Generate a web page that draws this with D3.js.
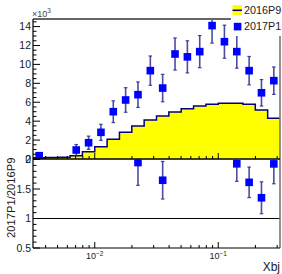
<!DOCTYPE html>
<html><head><meta charset="utf-8">
<script src="https://cdn.jsdelivr.net/npm/d3@7"></script>
<style>body{margin:0;background:#fff}svg{display:block;font-family:"Liberation Sans",Arial,sans-serif}</style>
</head><body><svg id="c" width="282" height="274"></svg>
<script>
// bin low edges (Xbj), 20 bins, 10 per decade
const binEdges = [0.003162,0.003981,0.005012,0.00631,0.007943,0.01,0.01259,0.01585,0.01995,0.02512,0.03162,0.03981,0.05012,0.0631,0.07943,0.1,0.1259,0.1585,0.1995,0.2512,0.3162];
// 2016P9 histogram (x10^3)
const hist2016P9 = [0.12,0.15,0.18,0.35,0.77,1.30,2.08,2.82,3.49,4.13,4.55,4.97,5.32,5.60,5.79,5.89,5.89,5.79,5.18,4.30];
// 2017P1 points (x10^3) and errors
const pts2017P1 = [0.35,null,null,0.95,1.72,2.82,5.0,6.24,6.8,9.34,7.5,11.1,10.8,11.35,14.1,12.4,11.35,9.34,7.0,8.28];
const err2017P1 = [0.2,null,null,0.58,0.7,0.85,1.15,1.3,1.35,1.55,1.45,1.7,1.7,1.7,1.85,1.75,1.75,1.5,1.4,1.45];
const topTicks = [0,2,4,6,8,10,12,14];
const ratioTicks = [0.5,1,1.5,2];
const xMajor = [0.01,0.1];
const xMinor = [0.004,0.005,0.006,0.007,0.008,0.009,0.02,0.03,0.04,0.05,0.06,0.07,0.08,0.09,0.2,0.3];
const legendNames = ["2016P9","2017P1"];

const svg = d3.select("#c");
const L=33, R=280, T1=19, B1=159, T2=159.5, B2=248;
const x = d3.scaleLog().domain([binEdges[0], binEdges[20]]).range([L,R]);
const y1 = d3.scaleLinear().domain([0,14.8]).range([B1,T1]);
const y2 = d3.scaleLinear().domain([0.5,2]).range([B2,T2]);
const txt = "#1a1a1a";

svg.append("rect").attr("width",282).attr("height",274).attr("fill","#fff");
const defs = svg.append("defs");
defs.append("clipPath").attr("id","cp1").append("rect").attr("x",L).attr("y",T1).attr("width",R-L).attr("height",B1-T1);
defs.append("clipPath").attr("id","cp2").append("rect").attr("x",L).attr("y",T2).attr("width",R-L).attr("height",B2-T2);

const bins = hist2016P9.map((v,i)=>({lo:binEdges[i],hi:binEdges[i+1],v:v,p:pts2017P1[i],e:err2017P1[i],c:Math.sqrt(binEdges[i]*binEdges[i+1])}));

// histogram
const g1 = svg.append("g").attr("clip-path","url(#cp1)");
let pd = `M${x(bins[0].lo)},${y1(0)}`;
bins.forEach(b=>{pd+=`L${x(b.lo)},${y1(b.v)}L${x(b.hi)},${y1(b.v)}`;});
pd += `L${x(bins[bins.length-1].hi)},${y1(0)}Z`;
g1.append("path").attr("d",pd).attr("fill","#ffff00");
let ld = "";
bins.forEach((b,i)=>{ld+=(i===0?`M${x(b.lo)},${y1(b.v)}`:`L${x(b.lo)},${y1(b.v)}`)+`L${x(b.hi)},${y1(b.v)}`;});
g1.append("path").attr("d",ld).attr("fill","none").attr("stroke","#000080").attr("stroke-width",1.5);

const ebCol = "#20208c";
function drawPoints(g, data, ys){
  data.forEach(d=>{
    const cx = x(d.c), cy = ys(d.val);
    const yt = ys(d.val+d.err), yb = ys(d.val-d.err);
    g.append("line").attr("x1",cx).attr("x2",cx).attr("y1",yt).attr("y2",yb).attr("stroke",ebCol).attr("stroke-width",1.6).attr("opacity",0.8);
    [yt,yb].forEach(yy=>g.append("line").attr("x1",cx-1.8).attr("x2",cx+1.8).attr("y1",yy).attr("y2",yy).attr("stroke",ebCol).attr("stroke-width",1.2).attr("opacity",0.8));
    g.append("rect").attr("x",cx-3.8).attr("y",cy-3.8).attr("width",7.6).attr("height",7.6).attr("fill","#0000ff");
  });
}
drawPoints(g1, bins.filter(b=>b.p!==null).map(b=>({c:b.c,val:b.p,err:b.e})), y1);

// ratio
const g2 = svg.append("g").attr("clip-path","url(#cp2)");
const ratio = bins.filter(b=>b.p!==null).map(b=>({c:b.c,val:b.p/b.v,err:b.e/b.v})).filter(d=>d.val>=0.5&&d.val<=2);
drawPoints(g2, ratio, y2);
svg.append("line").attr("x1",L).attr("x2",R).attr("y1",y2(1)).attr("y2",y2(1)).attr("stroke","#000").attr("stroke-width",1.2);

// frames
svg.append("line").attr("x1",L).attr("x2",R).attr("y1",T1).attr("y2",T1).attr("stroke","#666").attr("stroke-width",1.8);
svg.append("line").attr("x1",R).attr("x2",R).attr("y1",T1).attr("y2",B2).attr("stroke","#777").attr("stroke-width",1.6);
svg.append("line").attr("x1",L).attr("x2",R).attr("y1",B1).attr("y2",B1).attr("stroke","#000").attr("stroke-width",1.4);
svg.append("line").attr("x1",L).attr("x2",R).attr("y1",B2).attr("y2",B2).attr("stroke","#000").attr("stroke-width",1.2);
svg.append("line").attr("x1",L).attr("x2",L).attr("y1",T1).attr("y2",B2).attr("stroke","#000").attr("stroke-width",1.2);

// top y axis
const ax = svg.append("g").attr("stroke","#000").attr("stroke-width",1);
d3.range(0,14.8,0.5).forEach(v=>{
  const major = Math.abs(v/2-Math.round(v/2))<1e-6;
  ax.append("line").attr("x1",L).attr("x2",L+(major?7:3.5)).attr("y1",y1(v)).attr("y2",y1(v));
});
topTicks.forEach(v=>svg.append("text").attr("x",31).attr("y",y1(v)).attr("dy","0.36em").attr("text-anchor","end").attr("font-size",10.5).attr("fill",txt).text(v));
const sc = svg.append("text").attr("x",32).attr("y",17).attr("font-size",9).attr("fill","#444");
sc.append("tspan").text("\u00d710");
sc.append("tspan").attr("dy",-4).attr("font-size",6.5).text("3");

// ratio y axis
d3.range(0.5,2.001,0.1).forEach(v=>{
  const major = Math.abs(v*2-Math.round(v*2))<1e-6;
  ax.append("line").attr("x1",L).attr("x2",L+(major?7:3.5)).attr("y1",y2(v)).attr("y2",y2(v));
});
ratioTicks.forEach(v=>svg.append("text").attr("x",31).attr("y",y2(v)).attr("dy","0.36em").attr("text-anchor","end").attr("font-size",10.5).attr("fill",txt).text(v));
svg.append("text").attr("transform",`translate(15,${(T2+B2)/2-6}) rotate(-90)`).attr("text-anchor","middle").attr("font-size",11.2).attr("fill",txt).text("2017P1/2016P9");

// x ticks (both pads)
[B1,B2].forEach(yb=>{
  xMajor.forEach(v=>ax.append("line").attr("x1",x(v)).attr("x2",x(v)).attr("y1",yb).attr("y2",yb-6));
  xMinor.forEach(v=>ax.append("line").attr("x1",x(v)).attr("x2",x(v)).attr("y1",yb).attr("y2",yb-3));
});
const xl = [["10","\u22122"],["10","\u22121"]];
xMajor.forEach((v,i)=>{
  const t = svg.append("text").attr("x",x(v)).attr("y",259).attr("text-anchor","middle").attr("font-size",9).attr("fill",txt);
  t.append("tspan").text(xl[i][0]);
  t.append("tspan").attr("dy",-3.5).attr("font-size",6.5).text(xl[i][1]);
});
svg.append("text").attr("x",280).attr("y",271).attr("text-anchor","end").attr("font-size",12).attr("fill",txt).text("Xbj");

// legend
const lg = svg.append("g");
lg.append("rect").attr("x",231).attr("y",0).attr("width",51).attr("height",36).attr("fill","#fff");
lg.append("rect").attr("x",232.5).attr("y",5).attr("width",9.5).attr("height",10).attr("fill","#ffff00");
lg.append("line").attr("x1",232.5).attr("x2",242).attr("y1",10.3).attr("y2",10.3).attr("stroke","#000080").attr("stroke-width",1.5);
lg.append("rect").attr("x",233.8).attr("y",22.8).attr("width",7.6).attr("height",7.6).attr("fill","#0000ff");
legendNames.forEach((n,i)=>lg.append("text").attr("x",244).attr("y",10.3+i*16.3).attr("dy","0.36em").attr("font-size",10.8).attr("fill",txt).text(n));
</script></body></html>
